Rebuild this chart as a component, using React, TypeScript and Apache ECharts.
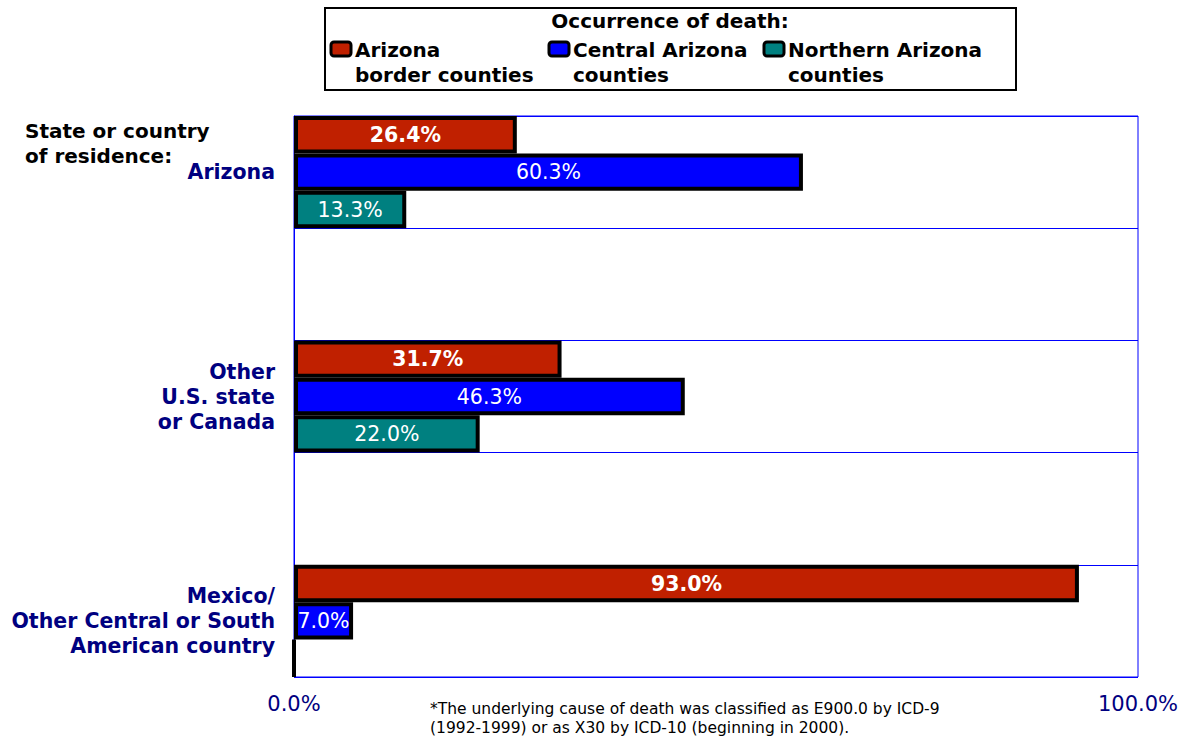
import React, { useEffect, useRef } from "react";
import * as echarts from "echarts";

const categories = [
  "Arizona",
  "",
  "Other\nU.S. state\nor Canada",
  "",
  "Mexico/\nOther Central or South\nAmerican country",
];
const seriesNames = [
  "Arizona\nborder counties",
  "Central Arizona\ncounties",
  "Northern Arizona\ncounties",
];
const borderCounties = [26.4, null, 31.7, null, 93.0];
const centralCounties = [60.3, null, 46.3, null, 7.0];
const northernCounties = [13.3, null, 22.0, null, 0];
const colors = ["#C02000", "#0000FF", "#008080"];
const xTickValues = [0, 100];
const legendTitle = "Occurrence of death:";
const axisTitle = "State or country\nof residence:";
const footnote =
  "*The underlying cause of death was classified as E900.0 by ICD-9\n(1992-1999) or as X30 by ICD-10 (beginning in 2000).";

const FONT = "DejaVu Sans";

export default function App() {
  const ref = useRef<HTMLDivElement>(null);
  useEffect(() => {
    const chart = echarts.init(ref.current!, undefined, { renderer: "svg" });
    const data = [borderCounties, centralCounties, northernCounties];
    const legendX = [330, 548, 763];
    const series = data.map((vals, i) => ({
      name: seriesNames[i],
      type: "bar",
      data: vals,
      barGap: "0%",
      barCategoryGap: "0%",
      itemStyle: { color: colors[i], borderColor: "#000", borderWidth: 4 },
      label: {
        show: true,
        position: "inside",
        color: "#fff",
        fontFamily: FONT,
        fontSize: 20.5,
        fontWeight: i === 0 ? "bold" : "normal",
        formatter: (p: any) => (p.value ? p.value.toFixed(1) + "%" : ""),
      },
    }));
    const graphics: any[] = [
      {
        type: "rect",
        shape: { x: 325, y: 8, width: 691, height: 82 },
        style: { fill: "#fff", stroke: "#000", lineWidth: 2 },
      },
      {
        type: "text",
        x: 670,
        y: 21,
        style: {
          text: legendTitle,
          font: `bold 20px '${FONT}'`,
          fill: "#000",
          align: "center",
          verticalAlign: "middle",
        },
      },
      {
        type: "text",
        x: 25,
        y: 118,
        style: {
          text: axisTitle,
          font: `bold 20px '${FONT}'`,
          fill: "#000",
          lineHeight: 25,
        },
      },
      {
        type: "text",
        x: 430,
        y: 699,
        style: {
          text: footnote,
          font: `15.5px '${FONT}'`,
          fill: "#000",
          lineHeight: 19,
        },
      },
    ];
    seriesNames.forEach((n, i) => {
      graphics.push({
        type: "rect",
        shape: { x: legendX[i] + 1, y: 42, width: 20, height: 14, r: 3 },
        style: { fill: colors[i], stroke: "#000", lineWidth: 3 },
      });
      graphics.push({
        type: "text",
        x: legendX[i] + 25,
        y: 37,
        style: {
          text: n,
          font: `bold 20px '${FONT}'`,
          fill: "#000",
          lineHeight: 25,
        },
      });
    });
    chart.setOption({
      animation: false,
      grid: {
        left: 294,
        right: 40,
        top: 116,
        bottom: 60,
        show: true,
        borderColor: "#0000FF",
        borderWidth: 1,
        containLabel: false,
        outerBoundsMode: "none",
      },
      xAxis: {
        type: "value",
        min: 0,
        max: 100,
        interval: 100,
        axisLine: { show: false },
        axisTick: { show: false },
        splitLine: { show: false },
        axisLabel: {
          color: "#000080",
          fontFamily: FONT,
          fontSize: 21,
          margin: 16,
          formatter: (v: number) => (xTickValues.includes(v) ? v.toFixed(1) + "%" : ""),
        },
      },
      yAxis: {
        type: "category",
        data: categories,
        inverse: true,
        axisLine: { show: true, lineStyle: { color: "#0000FF", width: 1 } },
        axisTick: { show: false },
        splitLine: { show: true, lineStyle: { color: "#0000FF", width: 1 } },
        axisLabel: {
          color: "#000080",
          fontFamily: FONT,
          fontSize: 20.5,
          fontWeight: "bold",
          lineHeight: 25,
          margin: 19,
          align: "right",
        },
      },
      series,
      graphic: graphics,
    });
    return () => chart.dispose();
  }, []);
  return (
    <div
      ref={ref}
      style={{ position: "absolute", left: 0, top: 0, width: 1178, height: 737 }}
    />
  );
}
